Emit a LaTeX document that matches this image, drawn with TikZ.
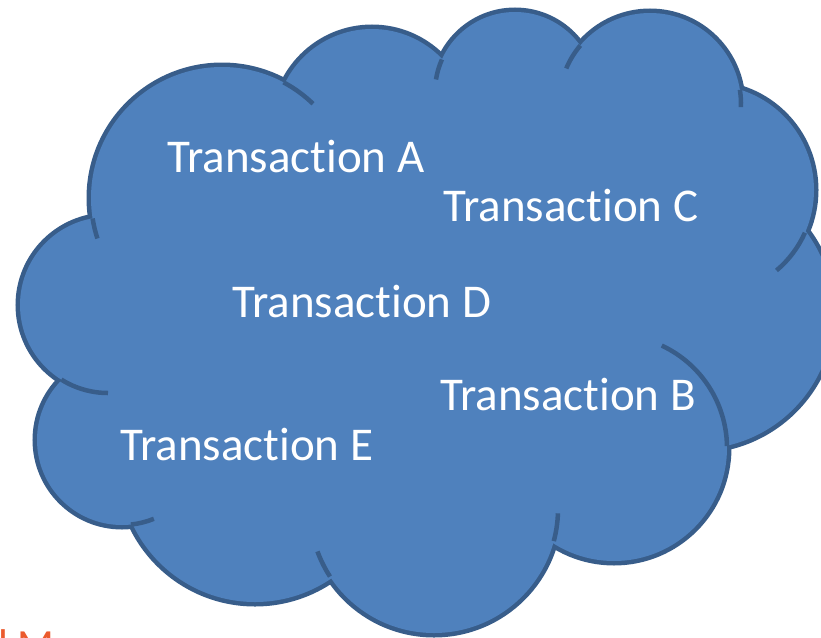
\documentclass[tikz,border=0pt]{standalone}
\usepackage{fontspec}
\setmainfont{Carlito}[Ligatures=CommonOff]
\usepackage{xcolor}
\definecolor{cloudfill}{HTML}{4F81BD}
\definecolor{cloudline}{HTML}{385D8A}
\definecolor{titleorange}{HTML}{EB5A2D}

\begin{document}
\begin{tikzpicture}[x=1pt,y=-1pt,
  lobe/.style={draw=cloudline,line width=9pt},
  seam/.style={draw=cloudline,line width=4.5pt},
  txt/.style={text=white,font=\fontsize{47}{56}\selectfont,anchor=base west,inner sep=0pt}]
\useasboundingbox (0,0) rectangle (821,637);
\clip (0,0) rectangle (821,637);
% lobes of the cloud: centre x / centre y / radius
\def\lobes{222/198/131, 372/126/97, 515/92/80, 650/104/91, 709/190/105,
  697/313/136, 614/448/113, 434/509/124, 255/467/135, 122/440/85, 108/305/88}
\foreach \x/\y/\r in \lobes
    \draw[lobe] (\x,\y) circle[radius=\r];
\foreach \x/\y/\r in \lobes
    \fill[cloudfill] (\x,\y) circle[radius=\r];
\fill[cloudfill] (222,198) -- (372,126) -- (515,92) -- (650,104) -- (709,190)
  -- (697,313) -- (614,448) -- (434,509) -- (255,467) -- (122,440) -- (108,305) -- cycle;
% short inner arcs where the lobes overlap
\foreach \x/\y/\r/\a/\b in {222/198/131/171/162, 222/198/131/-62/-46,
  515/92/80/-156/-171, 650/104/91/-140/-157, 650/104/91/-9/2,
  709/190/105/24/50, 614/448/113/-1/-65, 434/509/124/15/2,
  434/509/124/147/160, 122/440/85/84/68, 108/305/88/122/90}
    \draw[seam] (\x,\y) ++(\a:\r) arc[start angle=\a,end angle=\b,radius=\r];
\node[txt] (trA) at (167,172) {Transaction A};
\node[txt] (trC) at (443,221) {Transaction C};
\node[txt] (trD) at (232,317) {Transaction D};
\node[txt] (trB) at (440,410) {Transaction B};
\node[txt] (trE) at (120,460) {Transaction E};
\node[txt,text=titleorange,font=\fontsize{43}{50}\selectfont] (title) at (-2,659) {l M};
\end{tikzpicture}
\end{document}
